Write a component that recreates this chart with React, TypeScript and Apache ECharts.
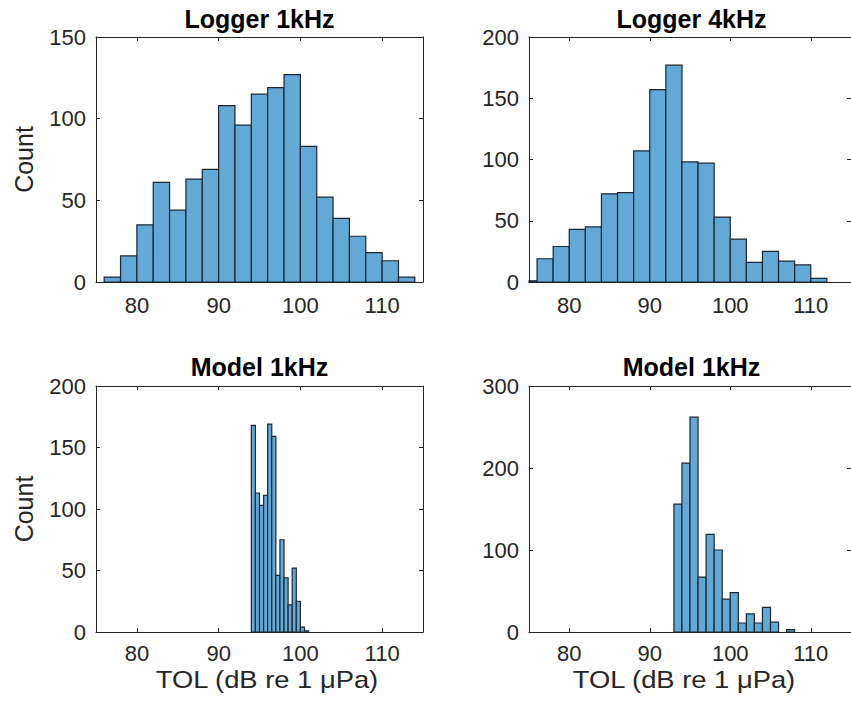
import React, { useEffect, useRef } from "react";
import * as echarts from "echarts";

// ---- data ----
const xTickValues = [80, 90, 100, 110];
const xMin = 75;
const xMax = 115;

const panelTitles = ["Logger 1kHz", "Logger 4kHz", "Model 1kHz", "Model 1kHz"];
const yLabel = "Count";
const xLabel = "TOL (dB re 1 μPa)";

const logger1kStart = 76;
const logger1kWidth = 2;
const logger1kCounts = [3, 16, 35, 61, 44, 63, 69, 108, 96, 115, 119, 127, 83, 52, 39, 28, 18, 13, 3];

const logger4kStart = 74;
const logger4kWidth = 2;
const logger4kCounts = [1, 19, 29, 43, 45, 72, 73, 107, 157, 177, 98, 97, 53, 35, 16, 25, 17, 14, 3];

const model1kStart = 94;
const model1kWidth = 0.5;
const model1kCounts = [168, 113, 103, 111, 169, 159, 46, 75, 44, 22, 52, 25, 4, 1];

const model4kStart = 93;
const model4kWidth = 1;
const model4kCounts = [156, 206, 262, 67, 119, 100, 40, 48, 11, 22, 11, 30, 12, 0, 3];

const yMaxes = [150, 200, 200, 300];
const yIntervals = [50, 50, 50, 100];

// ---- layout / style ----
const FONT = "'Liberation Sans', Arial, Helvetica, sans-serif";
const AXIS_COLOR = "#262626";
const BAR_FILL = "#62a9d8";
const BAR_EDGE = "#1c2630";

const grids = [
  { left: 96, top: 37, width: 327, height: 245 },
  { left: 529, top: 37, width: 327, height: 245 },
  { left: 96, top: 386, width: 327, height: 246 },
  { left: 529, top: 386, width: 327, height: 246 },
];
const xLabelCenters = [267, 684];

function makeBins(start: number, width: number, counts: number[]) {
  return counts.map((c, i) => [start + i * width, start + (i + 1) * width, c]);
}

const histData = [
  makeBins(logger1kStart, logger1kWidth, logger1kCounts),
  makeBins(logger4kStart, logger4kWidth, logger4kCounts),
  makeBins(model1kStart, model1kWidth, model1kCounts),
  makeBins(model4kStart, model4kWidth, model4kCounts),
];

function buildOption(): any {
  const xAxis: any[] = [];
  const yAxis: any[] = [];
  const series: any[] = [];
  const graphic: any[] = [];

  grids.forEach((g, i) => {
    const tick = { show: true, inside: true, length: 4, lineStyle: { color: AXIS_COLOR, width: 1 } };
    const line = { show: true, onZero: false, lineStyle: { color: AXIS_COLOR, width: 1 } };
    xAxis.push({
      gridIndex: i,
      type: "value",
      position: "bottom",
      min: xMin,
      max: xMax,
      axisLine: line,
      axisTick: { ...tick, customValues: xTickValues },
      axisLabel: {
        customValues: xTickValues,
        color: AXIS_COLOR,
        fontSize: 22,
        fontFamily: FONT,
        margin: i < 2 ? 12 : 10,
      },
      splitLine: { show: false },
    });
    xAxis.push({
      gridIndex: i,
      type: "value",
      position: "top",
      min: xMin,
      max: xMax,
      axisLine: line,
      axisTick: { ...tick, customValues: xTickValues },
      axisLabel: { show: false },
      splitLine: { show: false },
    });
    yAxis.push({
      gridIndex: i,
      type: "value",
      position: "left",
      min: 0,
      max: yMaxes[i],
      interval: yIntervals[i],
      axisLine: line,
      axisTick: tick,
      axisLabel: { color: AXIS_COLOR, fontSize: 22, fontFamily: FONT, margin: 10 },
      splitLine: { show: false },
    });
    yAxis.push({
      gridIndex: i,
      type: "value",
      position: "right",
      min: 0,
      max: yMaxes[i],
      interval: yIntervals[i],
      axisLine: line,
      axisTick: tick,
      axisLabel: { show: false },
      splitLine: { show: false },
    });

    series.push({
      type: "custom",
      xAxisIndex: i * 2,
      yAxisIndex: i * 2,
      data: histData[i],
      encode: { x: [0, 1], y: 2 },
      renderItem: (params: any, api: any) => {
        const s = api.value(0);
        const e = api.value(1);
        const c = api.value(2);
        if (!c) return null;
        const p0 = api.coord([s, 0]);
        const p1 = api.coord([e, c]);
        const cs = params.coordSys;
        const x0 = Math.max(p0[0], cs.x);
        const x1 = Math.min(p1[0], cs.x + cs.width);
        if (x1 <= x0) return null;
        return {
          type: "rect",
          shape: { x: x0, y: p1[1], width: x1 - x0, height: p0[1] - p1[1] },
          style: { fill: BAR_FILL, stroke: BAR_EDGE, lineWidth: 1.2 },
        };
      },
    });

    graphic.push({
      type: "text",
      x: g.left + g.width / 2 - (i % 2 === 1 ? 1 : 0),
      y: i < 2 ? 18.5 : 367,
      style: {
        text: panelTitles[i],
        font: `bold 25px ${FONT}`,
        fill: "#000000",
        textAlign: "center",
        textVerticalAlign: "middle",
      },
    });
  });

  [0, 2].forEach((i) => {
    const g = grids[i];
    graphic.push({
      type: "text",
      x: 24,
      y: g.top + g.height / 2,
      rotation: Math.PI / 2,
      style: {
        text: yLabel,
        font: `25px ${FONT}`,
        fill: AXIS_COLOR,
        textAlign: "center",
        textVerticalAlign: "middle",
      },
    });
  });
  xLabelCenters.forEach((cx) => {
    graphic.push({
      type: "text",
      x: cx,
      y: 680,
      scaleX: 1.14,
      style: {
        text: xLabel,
        font: `24px ${FONT}`,
        fill: AXIS_COLOR,
        textAlign: "center",
        textVerticalAlign: "middle",
      },
    });
  });

  return {
    animation: false,
    backgroundColor: "#ffffff",
    grid: grids.map((g) => ({ ...g, containLabel: false })),
    xAxis,
    yAxis,
    series,
    graphic,
  };
}

export default function App() {
  const ref = useRef<HTMLDivElement>(null);
  useEffect(() => {
    if (!ref.current) return;
    const chart = echarts.init(ref.current, undefined, { renderer: "svg" });
    chart.setOption(buildOption());
    return () => chart.dispose();
  }, []);
  return (
    <div
      ref={ref}
      style={{ position: "fixed", left: 0, top: 0, width: 851, height: 706, background: "#fff" }}
    />
  );
}
